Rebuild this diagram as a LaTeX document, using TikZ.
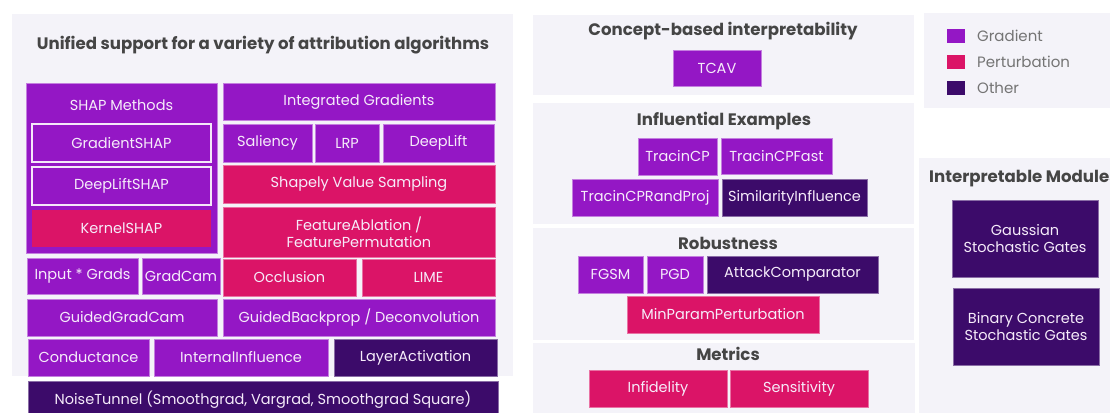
\documentclass[tikz,border=0pt]{standalone}
\usepackage{fontspec}
\setmainfont{Poppins}
\definecolor{gradc}{HTML}{9417C5}
\definecolor{pertc}{HTML}{DB1467}
\definecolor{otherc}{HTML}{3C0B6A}
\definecolor{panelc}{HTML}{F4F3F9}
\definecolor{headc}{HTML}{454545}
\begin{document}
\begin{tikzpicture}[x=1pt, y=-1pt,
  sz/.style 2 args={minimum width=#1pt, minimum height=#2pt},
  box/.style={rectangle, inner sep=0pt, align=center, font=\fontsize{14.5}{16.5}\selectfont, text=white!92!gradc, line width=0.8pt},
  gbox/.style={box, fill=gradc, draw=gradc!55!white},
  pbox/.style={box, fill=pertc, draw=pertc!60!white},
  obox/.style={box, fill=otherc, draw=otherc!60!white},
  inbox/.style={gbox, draw=white!90!gradc, line width=1.3pt},
  head/.style={font=\bfseries\fontsize{16.6}{18}\selectfont, text=headc, inner sep=0pt},
  key/.style={font=\fontsize{15}{17}\selectfont, text=headc!75!white, inner sep=0pt, anchor=west},
  swatch/.style={rectangle, inner sep=0pt, sz={18}{14}}]
\clip (0,0) rectangle (1110,412);
\fill[white] (0,0) rectangle (1110,412);
% panels
\fill[panelc] (12,14) rectangle (513,376);
\fill[panelc] (533,15) rectangle (914,95);
\fill[panelc] (533,103) rectangle (914,224);
\fill[panelc] (533,228) rectangle (914,340);
\fill[panelc] (533,343) rectangle (915,415);
\fill[panelc] (924,13) rectangle (1115,108);
\fill[panelc] (919,158) rectangle (1115,415);
% attribution
\node[head] (attr) at (263,45) {Unified support for a variety of attribution algorithms};
\node[gbox,sz={191}{170}] (shap) at (121.5,168) {};
\node[box] (shaplbl) at (121.5,105) {SHAP Methods};
\node[inbox,sz={179}{38}] (gshap) at (121.5,143) {GradientSHAP};
\node[inbox,sz={179}{38}] (dlshap) at (121.5,186) {DeepLiftSHAP};
\node[pbox,sz={179}{37},draw=none] (kshap) at (121.5,228.5) {KernelSHAP};
\node[gbox,sz={272}{37}] (ig) at (359,101.5) {Integrated Gradients};
\node[gbox,sz={89}{38}] (sal) at (267.5,143) {Saliency};
\node[gbox,sz={64}{38}] (lrp) at (347,143) {LRP};
\node[gbox,sz={111}{38}] (dl) at (438.5,143) {DeepLift};
\node[pbox,sz={272}{38}] (svs) at (359,184) {Shapely Value Sampling};
\node[pbox,sz={272}{50}] (fa) at (359,232) {FeatureAblation /\\FeaturePermutation};
\node[gbox,sz={111}{36}] (ixg) at (82.5,276) {Input * Grads};
\node[gbox,sz={78}{36}] (gcam) at (181,276) {GradCam};
\node[pbox,sz={133}{37}] (occ) at (289.5,277.5) {Occlusion};
\node[pbox,sz={133}{37}] (lime) at (428.5,277.5) {LIME};
\node[gbox,sz={190}{37}] (ggc) at (122,317.5) {GuidedGradCam};
\node[gbox,sz={272}{37}] (gbp) at (359,317.5) {GuidedBackprop / Deconvolution};
\node[gbox,sz={121}{37}] (cond) at (88.5,357.5) {Conductance};
\node[gbox,sz={174}{37}] (ii) at (241,357.5) {InternalInfluence};
\node[obox,sz={163}{37}] (la) at (415.5,357.5) {LayerActivation};
\node[obox,sz={470}{37}] (nt) at (263,399.5) {NoiseTunnel (Smoothgrad, Vargrad, Smoothgrad Square)};
% concept
\node[head] (concept) at (723,31) {Concept-based interpretability};
\node[gbox,sz={88}{36}] (tcav) at (717,68) {TCAV};
% influential
\node[head] (infl) at (724,121) {Influential Examples};
\node[gbox,sz={79}{37}] (tcp) at (677.5,156.5) {TracinCP};
\node[gbox,sz={111}{36}] (tcpf) at (776.5,156) {TracinCPFast};
\node[gbox,sz={146}{37}] (tcprp) at (645,197.5) {TracinCPRandProj};
\node[obox,sz={145}{37}] (sim) at (794.5,197.5) {SimilarityInfluence};
% robustness
\node[head] (robust) at (728,243) {Robustness};
\node[gbox,sz={65}{37}] (fgsm) at (610.5,274.5) {FGSM};
\node[gbox,sz={56}{37}] (pgd) at (675,274.5) {PGD};
\node[obox,sz={171}{37}] (ac) at (792.5,274.5) {AttackComparator};
\node[pbox,sz={192}{37}] (mpp) at (723,314.5) {MinParamPerturbation};
% metrics
\node[head] (metrics) at (728,354) {Metrics};
\node[pbox,sz={138}{37}] (infid) at (658,388.5) {Infidelity};
\node[pbox,sz={138}{37}] (sens) at (799,388.5) {Sensitivity};
% legend
\node[swatch,fill=gradc] (kgrad) at (956,36) {};
\node[swatch,fill=pertc] (kpert) at (956,62) {};
\node[swatch,fill=otherc] (kother) at (956,88) {};
\node[key] (lgrad) at (977,36) {Gradient};
\node[key] (lpert) at (977,62) {Perturbation};
\node[key] (lother) at (977,88) {Other};
% modules
\node[head,anchor=west] (modules) at (929,179) {Interpretable Modules};
\node[obox,sz={146}{77}] (gsg) at (1025,238.5) {Gaussian\\Stochastic Gates};
\node[obox,sz={146}{77}] (bcsg) at (1026,326.5) {Binary Concrete\\Stochastic Gates};
\end{tikzpicture}
\end{document}
